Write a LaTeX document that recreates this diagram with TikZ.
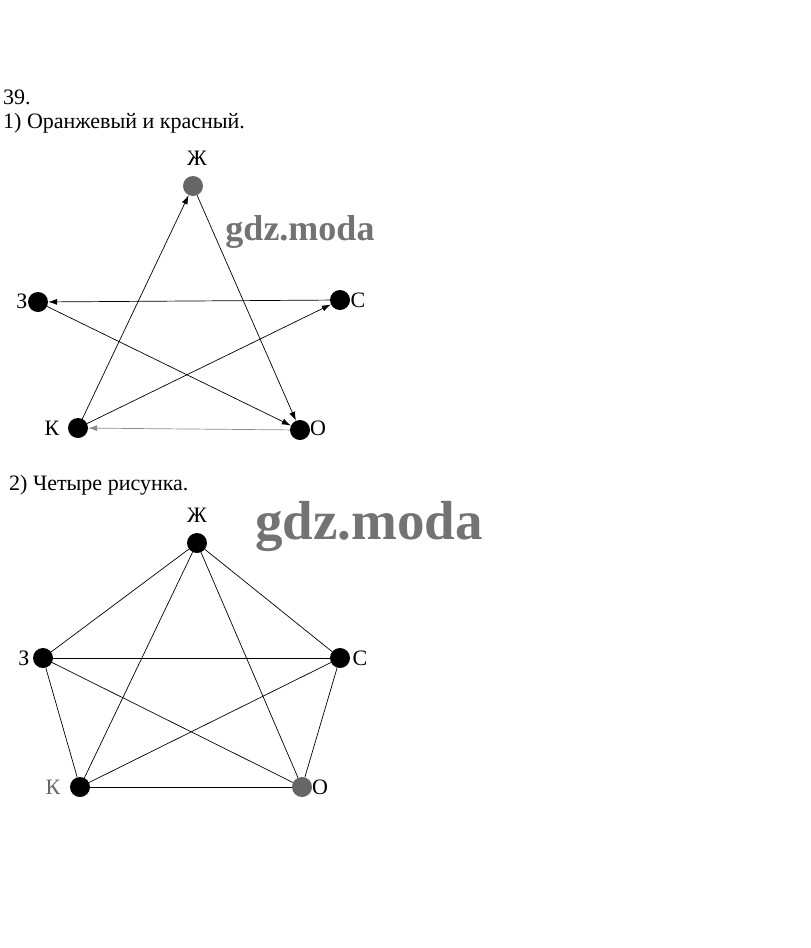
\documentclass[tikz,border=0pt]{standalone}
\usepackage{fontspec}
\setmainfont{Liberation Serif}
\usetikzlibrary{arrows.meta}
\begin{document}
\begin{tikzpicture}[x=1pt,y=-1pt,
  vtx/.style={circle,fill=black,inner sep=0pt,minimum size=20pt},
  gvtx/.style={vtx,fill=black!60},
  lbl/.style={font=\fontsize{22}{24}\selectfont,inner sep=0pt},
  txt/.style={font=\fontsize{22}{24}\selectfont,inner sep=0pt,anchor=west},
  edge/.style={line width=0.7pt},
  arr/.style={edge,-{Latex[length=9pt,width=6pt]}},
  wm/.style={inner sep=0pt,text=black!55}]
\useasboundingbox[fill=white] (0,0) rectangle (811,948);

% texts
\node[txt] (t0) at (3,97) {39.};
\node[txt] (t1) at (3,123) {1) Оранжевый и красный.};
\node[txt] (t2) at (9,485) {2) Четыре рисунка.};

% watermarks
\node[wm,font=\bfseries\fontsize{36}{38}\selectfont] (w1) at (300,232) {gdz.moda};
\node[wm,font=\bfseries\fontsize{55}{57}\selectfont] (w2) at (369,526) {gdz.moda};

% figure 1
\node[gvtx] (z1) at (193,186) {};
\node[vtx] (ze1) at (38,302) {};
\node[vtx] (s1) at (340,300) {};
\node[vtx] (k1) at (78,428) {};
\node[vtx] (o1) at (300,430) {};
\node[lbl] (lz1) at (197,158) {Ж};
\node[lbl] (lze1) at (22,301) {З};
\node[lbl] (ls1) at (358,300) {С};
\node[lbl] (lk1) at (52,428) {К};
\node[lbl] (lo1) at (318,428) {О};

\draw[arr] (k1) -- (z1);
\draw[arr] (z1) -- (o1);
\draw[arr,black!45] (o1) -- (k1);
\draw[arr] (k1) -- (s1);
\draw[arr] (s1) -- (ze1);
\draw[arr] (ze1) -- (o1);

% figure 2
\node[vtx] (z2) at (197,543) {};
\node[vtx] (ze2) at (43,658) {};
\node[vtx] (s2) at (340,658) {};
\node[vtx] (k2) at (80,787) {};
\node[gvtx] (o2) at (302,787) {};
\node[lbl] (lz2) at (197,515) {Ж};
\node[lbl] (lze2) at (24,658) {З};
\node[lbl] (ls2) at (360,658) {С};
\node[lbl,text=black!60] (lk2) at (53,787) {К};
\node[lbl] (lo2) at (320,787) {О};

\foreach \a/\b in {z2/ze2,z2/s2,z2/k2,z2/o2,ze2/s2,ze2/k2,ze2/o2,s2/k2,s2/o2,k2/o2}
  \draw[edge] (\a) -- (\b);
\end{tikzpicture}
\end{document}
